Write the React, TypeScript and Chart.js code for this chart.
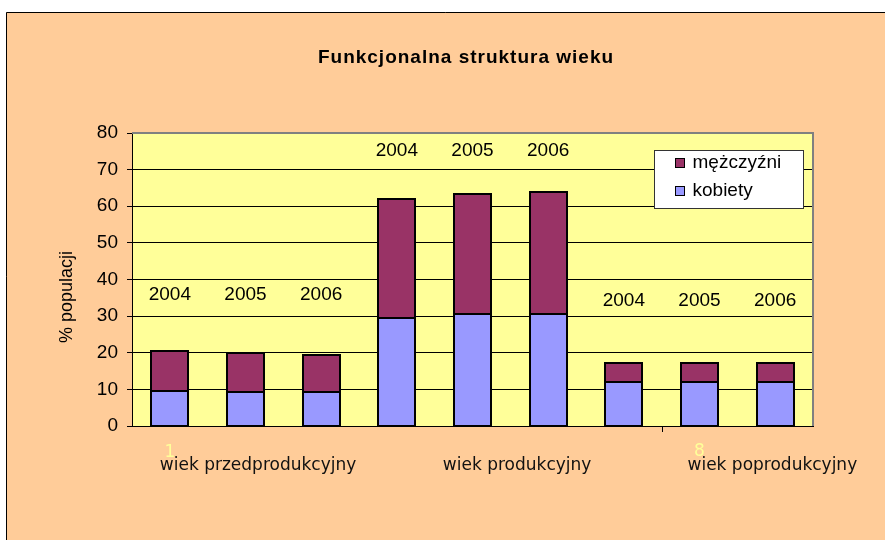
import React, { useEffect, useRef } from 'react';
import { Chart, registerables } from 'chart.js';

Chart.register(...registerables);

// ---- data ----
const categories = ['2004', '2005', '2006', '2004', '2005', '2006', '2004', '2005', '2006'];
const kobiety = [9.5, 9.3, 9.2, 29.6, 30.5, 30.6, 12.0, 12.1, 12.1];
const mezczyzni = [10.9, 10.6, 10.2, 32.3, 32.8, 33.2, 5.1, 5.0, 5.0];
const groupNames = ['wiek przedprodukcyjny', 'wiek produkcyjny', 'wiek poprodukcyjny'];
const axisNumbers = ['1', '8'];
const yTicks = [0, 10, 20, 30, 40, 50, 60, 70, 80];
const chartTitle = 'Funkcjonalna struktura wieku';
const yTitle = '% populacji';

const ARIAL = '"Liberation Sans", Arial, sans-serif';
const TAHOMA = '"DejaVu Sans", Tahoma, sans-serif';

const decorPlugin = {
  id: 'decor',
  beforeDraw(chart: any) {
    const { ctx, width, height, chartArea: a } = chart;
    ctx.save();
    ctx.fillStyle = '#ffffff';
    ctx.fillRect(0, 0, width, height);
    ctx.fillStyle = '#FFCC99';
    ctx.fillRect(6, 12, width, height);
    ctx.strokeStyle = '#000';
    ctx.lineWidth = 1;
    ctx.beginPath();
    ctx.moveTo(6.5, height);
    ctx.lineTo(6.5, 12.5);
    ctx.lineTo(width, 12.5);
    ctx.stroke();
    ctx.fillStyle = '#FFFF99';
    ctx.fillRect(a.left, a.top, a.right - a.left, a.bottom - a.top);
    ctx.restore();
  },
  afterDatasetsDraw(chart: any) {
    const { ctx } = chart;
    ctx.save();
    ctx.strokeStyle = '#000';
    ctx.lineWidth = 2;
    chart.data.datasets.forEach((_: any, di: number) => {
      const meta = chart.getDatasetMeta(di);
      meta.data.forEach((el: any) => {
        const p = el.getProps(['x', 'y', 'base', 'width'], true);
        const l = Math.round(p.x - p.width / 2);
        const r = Math.round(p.x + p.width / 2);
        const t = Math.round(Math.min(p.y, p.base));
        const b = Math.round(Math.max(p.y, p.base));
        ctx.strokeRect(l, t, r - l, b - t);
      });
    });
    ctx.restore();
  },
  afterDraw(chart: any) {
    const { ctx, chartArea: a } = chart;
    const xs = chart.scales.x;
    const ys = chart.scales.y;
    ctx.save();
    // plot area border (gray) top & right
    ctx.strokeStyle = '#808080';
    ctx.lineWidth = 2;
    ctx.beginPath();
    ctx.moveTo(a.left, a.top);
    ctx.lineTo(a.right, a.top);
    ctx.lineTo(a.right, a.bottom);
    ctx.stroke();

    // x tick mark between categories 6 and 7
    const tx = Math.round((xs.getPixelForValue(6) + xs.getPixelForValue(7)) / 2) + 0.5;
    ctx.strokeStyle = '#000';
    ctx.lineWidth = 1;
    ctx.beginPath();
    ctx.moveTo(tx, a.bottom);
    ctx.lineTo(tx, a.bottom + 6);
    ctx.stroke();

    // chart title
    ctx.fillStyle = '#000';
    ctx.font = `bold 19px ${ARIAL}`;
    ctx.textAlign = 'center';
    ctx.textBaseline = 'middle';
    (ctx as any).letterSpacing = '1px';
    ctx.fillText(chartTitle, 466, 58);
    (ctx as any).letterSpacing = '0px';

    // y axis title
    ctx.save();
    ctx.translate(67, 297);
    ctx.rotate(-Math.PI / 2);
    ctx.font = `18px ${ARIAL}`;
    ctx.fillText(yTitle, 0, 0);
    ctx.restore();

    // year labels above bars
    const levels = (chart.options.plugins.decor && chart.options.plugins.decor.levels) || [];
    ctx.fillStyle = '#000';
    ctx.font = `19px ${ARIAL}`;
    ctx.textAlign = 'center';
    ctx.textBaseline = 'middle';
    categories.forEach((c, i) => {
      const lvl = levels[Math.floor(i / 3)];
      ctx.fillText(c, xs.getPixelForValue(i), ys.getPixelForValue(lvl));
    });

    // axis numbers (pale yellow)
    ctx.font = `17px ${TAHOMA}`;
    ctx.fillStyle = '#FFFF99';
    ctx.fillText(axisNumbers[0], xs.getPixelForValue(0), a.bottom + 27);
    ctx.fillText(axisNumbers[1], xs.getPixelForValue(7), a.bottom + 26);

    // group labels
    ctx.fillStyle = '#111';
    ctx.textAlign = 'left';
    const gx = [xs.getPixelForValue(0) - 10, xs.getPixelForValue(3) + 46, xs.getPixelForValue(7) - 12];
    groupNames.forEach((g, i) => {
      ctx.fillText(g, gx[i], a.bottom + 40);
    });

    // legend
    const lx = a.right - 158.5;
    const ly = a.top + 17.5;
    const lw = 149;
    const lh = 58;
    ctx.fillStyle = '#fff';
    ctx.fillRect(lx, ly, lw, lh);
    ctx.strokeStyle = '#333';
    ctx.lineWidth = 1;
    ctx.strokeRect(lx, ly, lw, lh);
    const ds = chart.data.datasets;
    const order = [1, 0];
    ctx.font = `19px ${ARIAL}`;
    ctx.textBaseline = 'middle';
    order.forEach((di, k) => {
      const cy = ly + 12.5 + k * 28;
      ctx.fillStyle = ds[di].backgroundColor;
      ctx.fillRect(lx + 21, cy - 4.5, 9, 9);
      ctx.strokeStyle = '#000';
      ctx.strokeRect(lx + 21, cy - 4.5, 9, 9);
      ctx.fillStyle = '#000';
      ctx.fillText(ds[di].label, lx + 38, cy);
    });
    ctx.restore();
  },
};

export default function App() {
  const ref = useRef<HTMLCanvasElement | null>(null);
  useEffect(() => {
    if (!ref.current) return;
    Chart.defaults.color = '#000';
    const chart = new Chart(ref.current, {
      type: 'bar',
      data: {
        labels: categories,
        datasets: [
          {
            label: 'kobiety',
            data: kobiety,
            backgroundColor: '#9999FF',
            borderWidth: 0,
            barPercentage: 0.49,
            categoryPercentage: 1,
          },
          {
            label: 'mężczyźni',
            data: mezczyzni,
            backgroundColor: '#993366',
            borderWidth: 0,
            barPercentage: 0.49,
            categoryPercentage: 1,
          },
        ],
      },
      options: {
        responsive: false,
        animation: false,
        devicePixelRatio: 1,
        layout: { padding: { left: 0, right: 72, top: 133, bottom: 0 } },
        plugins: {
          legend: { display: false },
          tooltip: { enabled: false },
          title: { display: false },
          decor: { levels: [35.7, 75.2, 34.3] },
        } as any,
        scales: {
          x: {
            stacked: true,
            grid: { display: false },
            border: { display: true, color: '#000', width: 1 },
            ticks: { display: false },
            afterFit: (s: any) => {
              s.height = 114;
            },
          },
          y: {
            stacked: true,
            min: 0,
            max: 80,
            afterBuildTicks: (s: any) => {
              s.ticks = yTicks.map((v) => ({ value: v }));
            },
            grid: {
              color: (c: any) => (c.tick && c.tick.value === 80 ? '#808080' : '#000'),
              lineWidth: 1,
              tickLength: 5,
              tickColor: '#000',
            },
            border: { display: true, color: '#000', width: 1 },
            ticks: {
              font: { family: ARIAL, size: 19 },
              color: '#000',
              padding: 9,
            },
            afterFit: (s: any) => {
              s.width = 132;
            },
          },
        },
      },
      plugins: [decorPlugin],
    });
    return () => chart.destroy();
  }, []);
  return (
    <canvas
      ref={ref}
      width={885}
      height={540}
      style={{ position: 'fixed', left: 0, top: 0, width: 885, height: 540, display: 'block' }}
    />
  );
}
